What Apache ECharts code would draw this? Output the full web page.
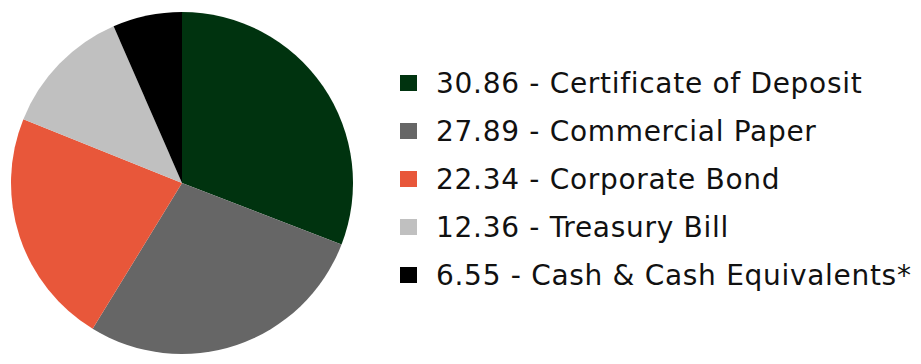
<!DOCTYPE html>
<html><head><meta charset="utf-8">
<script src="https://cdn.jsdelivr.net/npm/echarts@6/dist/echarts.min.js"></script>
<style>html,body{margin:0;padding:0;background:#fff}#c{width:921px;height:364px}#c svg text{letter-spacing:0.7px}</style>
</head><body><div id="c"></div>
<script>
const categories = ['Certificate of Deposit','Commercial Paper','Corporate Bond','Treasury Bill','Cash & Cash Equivalents*'];
const values = [30.86, 27.89, 22.34, 12.36, 6.55];
const colors = ['#00330f','#666666','#e8573a','#c0c0c0','#000000'];
const valueText = ['30.86','27.89','22.34','12.36','6.55'];

const chart = echarts.init(document.getElementById('c'), null, {renderer:'svg'});
chart.setOption({
  animation:false,
  legend:{
    orient:'vertical', left:395, top:64,
    itemWidth:17, itemHeight:16, itemGap:20,
    icon:'rect',
    textStyle:{fontFamily:'DejaVu Sans', fontSize:28, lineHeight:28, color:'#111', padding:[0,0,0,14]},
    formatter:function(name){const i=categories.indexOf(name);return valueText[i]+' - '+name;},
    data:categories
  },
  series:[{
    type:'pie', center:[182,183], radius:171, startAngle:90, clockwise:true,
    label:{show:false}, labelLine:{show:false}, silent:true,
    data:categories.map((n,i)=>({name:n,value:values[i],itemStyle:{color:colors[i]}}))
  }]
});
</script></body></html>
